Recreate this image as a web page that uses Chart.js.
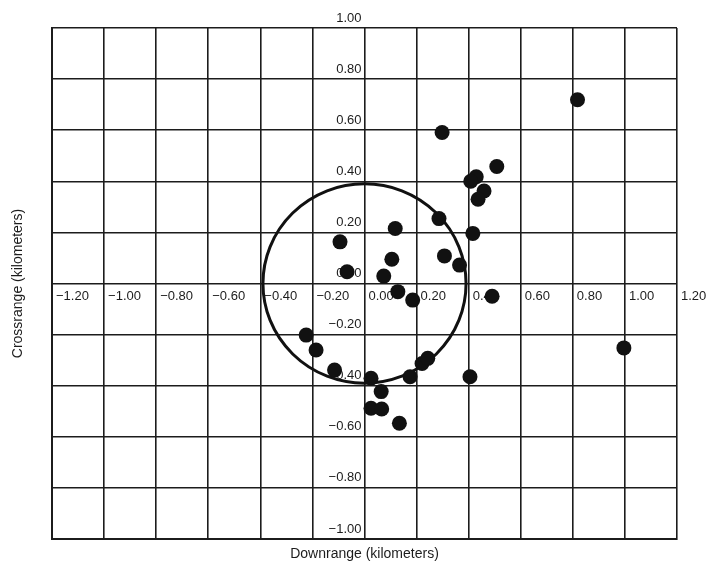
<!DOCTYPE html>
<html lang="en">
<head>
    <meta charset="UTF-8">
    <title>Downrange / Crossrange impact pattern</title>
    <script src="https://cdn.jsdelivr.net/npm/chart.js"></script>
    <style>
        body { margin: 0; background: #fff; }
        .chart-box { width: 712px; height: 569px; position: relative; }
    </style>
</head>
<body>
    <div class="chart-box"><canvas id="impactChart"></canvas></div>

    <script>
        // Impact points (km)
        const downrange = [0.818, 0.298, 0.508, 0.429, 0.408, 0.459, 0.436, 0.286, 0.416, 0.118,
                           -0.094, 0.307, 0.105, 0.365, -0.067, 0.074, 0.128, 0.185, 0.49, 0.996,
                           -0.224, -0.186, -0.115, 0.025, 0.175, 0.221, 0.243, 0.405, 0.064, 0.025,
                           0.066, 0.134];
        const crossrange = [0.719, 0.591, 0.458, 0.418, 0.400, 0.362, 0.330, 0.254, 0.196, 0.215,
                            0.163, 0.108, 0.095, 0.072, 0.046, 0.029, -0.032, -0.065, -0.05, -0.252,
                            -0.202, -0.260, -0.339, -0.371, -0.365, -0.313, -0.293, -0.365, -0.423, -0.488,
                            -0.491, -0.547];

        // Tick values and their labels
        const xTickValues = [-1.2, -1.0, -0.8, -0.6, -0.4, -0.2, 0, 0.2, 0.4, 0.6, 0.8, 1.0, 1.2];
        const xTickLabels = ["\u22121.20", "\u22121.00", "\u22120.80", "\u22120.60", "\u22120.40", "\u22120.20",
                             "0.00", "0.20", "0.40", "0.60", "0.80", "1.00", "1.20"];
        const yTickValues = [1.0, 0.8, 0.6, 0.4, 0.2, 0, -0.2, -0.4, -0.6, -0.8, -1.0];
        const yTickLabels = ["1.00", "0.80", "0.60", "0.40", "0.20", "0.00",
                             "\u22120.20", "\u22120.40", "\u22120.60", "\u22120.80", "\u22121.00"];

        // Circle around the aim point
        const circleCenter = [0, 0];
        const circleRadius = 0.39;

        const ink = "#1c1c1c";
        const labelFont = '13px "Liberation Sans", Arial, sans-serif';
        const titleFont = '14px "Liberation Sans", Arial, sans-serif';

        // Draws the tick labels along the zero lines and the circle, under the dots
        const gridOverlay = {
            id: "gridOverlay",
            beforeDatasetsDraw(chart) {
                const { ctx, scales: { x, y } } = chart;
                const xZero = x.getPixelForValue(0);
                const yZero = y.getPixelForValue(0);
                ctx.save();
                ctx.fillStyle = ink;
                ctx.font = labelFont;
                ctx.textBaseline = "middle";

                ctx.textAlign = "left";
                xTickValues.forEach((v, i) => {
                    ctx.fillText(xTickLabels[i], x.getPixelForValue(v) + 4, yZero + 13);
                });

                ctx.textAlign = "right";
                yTickValues.forEach((v, i) => {
                    ctx.fillText(yTickLabels[i], xZero - 3, y.getPixelForValue(v) - 10);
                });

                const cx = x.getPixelForValue(circleCenter[0]);
                const cy = y.getPixelForValue(circleCenter[1]);
                const rx = x.getPixelForValue(circleCenter[0] + circleRadius) - cx;
                const ry = cy - y.getPixelForValue(circleCenter[1] + circleRadius);
                ctx.beginPath();
                ctx.ellipse(cx, cy, rx, ry, 0, 0, Math.PI * 2);
                ctx.lineWidth = 3;
                ctx.strokeStyle = "#111";
                ctx.stroke();
                ctx.restore();
            },
            afterDraw(chart) {
                const { ctx, chartArea } = chart;
                ctx.save();
                ctx.fillStyle = ink;
                ctx.font = titleFont;
                ctx.textAlign = "center";
                ctx.textBaseline = "middle";
                ctx.fillText("Downrange (kilometers)", (chartArea.left + chartArea.right) / 2, chartArea.bottom + 15);
                ctx.translate(18, (chartArea.top + chartArea.bottom) / 2);
                ctx.rotate(-Math.PI / 2);
                ctx.fillText("Crossrange (kilometers)", 0, 0);
                ctx.restore();
            }
        };

        const points = downrange.map((d, i) => ({ x: d, y: crossrange[i] }));

        new Chart(document.getElementById("impactChart"), {
            type: "scatter",
            data: {
                datasets: [{
                    data: points,
                    pointRadius: 7.5,
                    pointHoverRadius: 7.5,
                    backgroundColor: "#111",
                    borderWidth: 0
                }]
            },
            options: {
                responsive: true,
                maintainAspectRatio: false,
                animation: false,
                layout: { padding: { left: 52, right: 35, top: 28, bottom: 30 } },
                plugins: { legend: { display: false }, tooltip: { enabled: false } },
                scales: {
                    x: {
                        type: "linear",
                        min: -1.2,
                        max: 1.2,
                        ticks: { display: false, stepSize: 0.2 },
                        grid: { color: ink, lineWidth: 1.6, drawTicks: false },
                        border: { display: true, color: ink, width: 2 }
                    },
                    y: {
                        type: "linear",
                        min: -1,
                        max: 1,
                        ticks: { display: false, stepSize: 0.2 },
                        grid: { color: ink, lineWidth: 1.6, drawTicks: false },
                        border: { display: true, color: ink, width: 2 }
                    }
                }
            },
            plugins: [gridOverlay]
        });
    </script>
</body>
</html>
